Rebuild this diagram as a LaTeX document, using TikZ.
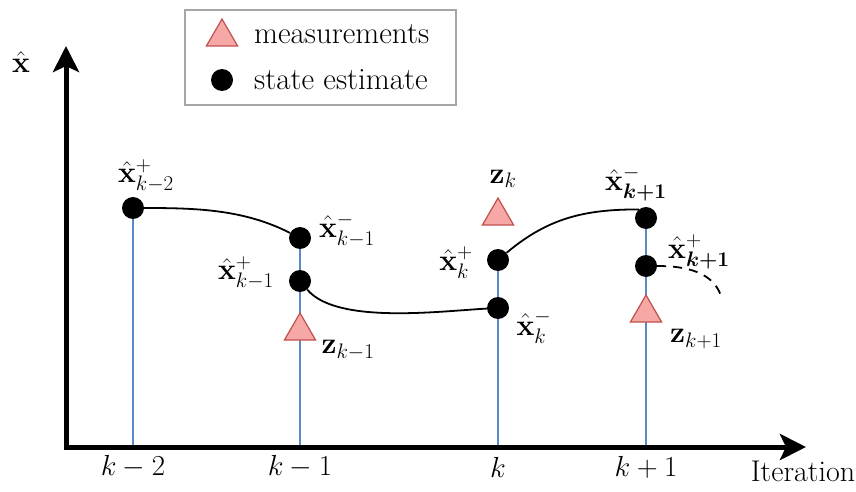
\RequirePackage{fix-cm}
\documentclass[tikz,border=0pt]{standalone}
\usepackage{amsmath}
\usetikzlibrary{arrows.meta,shapes.geometric}
\definecolor{trifill}{HTML}{F6A8A6}
\definecolor{triedge}{HTML}{C0504D}
\definecolor{vline}{HTML}{5B8ACB}
\definecolor{legbord}{HTML}{A6A6A6}
\begin{document}
\begin{tikzpicture}[x=1pt,y=-1pt,
  dot/.style={circle,fill=black,inner sep=0pt,minimum size=22pt},
  meas/.style={regular polygon,regular polygon sides=3,fill=trifill,draw=triedge,line width=1.2pt,inner sep=0pt,minimum size=36pt},
  vl/.style={draw=vline,line width=1.4pt},
  traj/.style={draw=black,line width=1.8pt},
  lab/.style={inner sep=0pt,font=\fontsize{30}{34}\selectfont},
  axlab/.style={inner sep=0pt,font=\fontsize{29}{32}\selectfont},
  legtext/.style={anchor=west,inner sep=0pt,font=\fontsize{31}{34}\selectfont},
  axis/.style={line width=5pt,{Stealth[length=26pt,width=26pt,inset=6pt]}-{Stealth[length=26pt,width=26pt,inset=6pt]}}
]
\useasboundingbox (0,0) rectangle (856,492);

% legend
\node[draw=legbord,line width=1.2pt,minimum width=271pt,minimum height=95pt,inner sep=0pt] (legend) at (320.5,57.5) {};
\node[meas] (legtri) at (222,37) {};
\node[dot] (legdot) at (222,80) {};
\node[legtext] (legt1) at (254,34) {measurements};
\node[legtext] (legt2) at (254,80) {state estimate};

% axes coordinates
\coordinate (ytip) at (66,46);
\coordinate (xtip) at (806,447);
\coordinate (b1) at (133,447);
\coordinate (b2) at (300,447);
\coordinate (b3) at (498,447);
\coordinate (b4) at (646,447);

% node positions
\coordinate (pa2p) at (133,208);
\coordinate (pa1m) at (300,238);
\coordinate (pa1p) at (300,281);
\coordinate (pz1) at (300,331);
\coordinate (pa0p) at (498,260);
\coordinate (pa0m) at (498,308);
\coordinate (pz0) at (498,216);
\coordinate (pb1m) at (646,218);
\coordinate (pb1p) at (646,266);
\coordinate (pz2) at (646,313);

% vertical lines
\draw[vl] (b1) -- (pa2p);
\draw[vl] (b2) -- (pa1m);
\draw[vl] (b3) -- (pa0p);
\draw[vl] (b4) -- (pb1m);

% measurements and estimates
\node[dot] (a2p) at (pa2p) {};
\node[dot] (a1m) at (pa1m) {};
\node[dot] (a1p) at (pa1p) {};
\node[meas] (z1) at (pz1) {};
\node[dot] (a0p) at (pa0p) {};
\node[dot] (a0m) at (pa0m) {};
\node[meas] (z0) at (pz0) {};
\node[dot] (b1m) at (pb1m) {};
\node[dot] (b1p) at (pb1p) {};
\node[meas] (z2) at (pz2) {};

\draw[axis] (ytip) |- (xtip);

% trajectories
\draw[traj] (a2p) to[out=0,in=153,looseness=0.9] (a1m);
\draw[traj] (a1p) to[out=-50,in=183,looseness=0.65] (a0m);
\draw[traj] (a0p) to[out=40,in=180] (b1m.130);
\coordinate (dashend) at (722,299);
\draw[traj,dash pattern=on 9pt off 7pt] (b1p) to[out=0,in=105] (dashend);

% labels
\node[lab] (l1) at (146,176) {$\hat{\mathbf{x}}^+_{k-2}$};
\node[lab] (l2) at (347,230) {$\hat{\mathbf{x}}^-_{k-1}$};
\node[lab] (l3) at (246,273) {$\hat{\mathbf{x}}^+_{k-1}$};
\node[lab] (l4) at (348,350) {$\mathbf{z}_{k-1}$};
\node[lab] (l5) at (503,179) {$\mathbf{z}_{k}$};
\node[lab] (l6) at (456,263) {$\hat{\mathbf{x}}^+_{k}$};
\node[lab] (l7) at (534,327) {$\hat{\mathbf{x}}^-_{k}$};
\node[lab] (l8) at (636,184) {$\hat{\mathbf{x}}^-_{\boldsymbol{k+1}}$};
\node[lab] (l9) at (699,252) {$\hat{\mathbf{x}}^+_{\boldsymbol{k+1}}$};
\node[lab] (l10) at (696,339) {$\mathbf{z}_{k+1}$};

\node[lab] (ylab) at (21,62) {$\hat{\mathbf{x}}$};
\node[axlab] (t1) at (133,467) {$k-2$};
\node[axlab] (t2) at (300,467) {$k-1$};
\node[axlab] (t3) at (498,467) {$k$};
\node[axlab] (t4) at (646,467) {$k+1$};
\node[legtext,anchor=center,font=\fontsize{30}{34}\selectfont] (it) at (803,471) {Iteration};
\end{tikzpicture}
\end{document}
